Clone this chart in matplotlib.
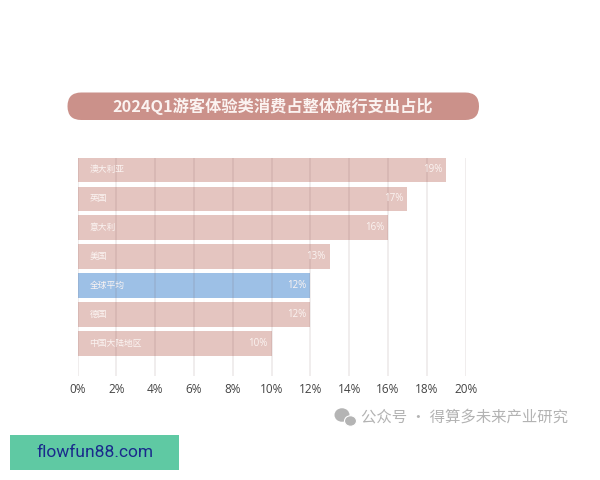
import matplotlib
matplotlib.use('Agg')
import matplotlib.pyplot as plt
from matplotlib.patches import FancyBboxPatch, Rectangle, Ellipse

plt.rcParams['font.family'] = ['Noto Sans CJK SC', 'DejaVu Sans']

# dados do grafico
titulo = '2024Q1游客体验类消费占整体旅行支出占比'
regioes = ['澳大利亚', '英国', '意大利', '美国', '全球平均', '德国', '中国大陆地区']
percentagens = [19, 17, 16, 13, 12, 12, 10]
destaque = '全球平均'
ticks_x = [0, 2, 4, 6, 8, 10, 12, 14, 16, 18, 20]
marca = '公众号 · 得算多未来产业研究'
site = 'flowfun88.com'

LARGURA, ALTURA = 600, 480

fig = plt.figure(figsize=(LARGURA / 100, ALTURA / 100), dpi=100, facecolor='white')

# camada em pixeis para a faixa do titulo e os rodapes
fundo = fig.add_axes([0, 0, 1, 1])
fundo.set_xlim(0, LARGURA)
fundo.set_ylim(ALTURA, 0)
fundo.axis('off')

# faixa arredondada do titulo
fundo.add_patch(FancyBboxPatch((67.5, 92.5), 411.5, 27.5, boxstyle='round,pad=0,rounding_size=13.7',
                               facecolor='#cb918a', edgecolor='none'))
fundo.text(273, 106, titulo, color='#fbf3f1', fontsize=11.7, fontweight='bold',
           ha='center', va='center')

# grafico de barras horizontais
ax = fig.add_axes([77.5 / LARGURA, 1 - 376 / ALTURA, 388.2 / LARGURA, 218.3 / ALTURA])
ax.patch.set_alpha(0)
posicoes = list(range(len(regioes)))
cores = ['#9dc0e6' if r == destaque else '#e4c5c0' for r in regioes]
ax.barh(posicoes, percentagens, height=0.85, color=cores, zorder=2)

ax.set_xlim(0, 20)
ax.set_ylim(7.13, -0.425)
ax.set_yticks([])
ax.set_xticks(ticks_x)
ax.set_xticklabels([f'{t}%' for t in ticks_x], fontsize=8.5, color='#444444',
                   family=['Open Sans', 'DejaVu Sans'])
ax.tick_params(axis='x', length=0, pad=5)
ax.grid(axis='x', color='#6a4a4a', alpha=0.13, linewidth=1.1, zorder=3)
ax.set_axisbelow(False)
for lado in ax.spines.values():
    lado.set_visible(False)

# nomes dentro das barras e valores na ponta
for pos, regiao, valor in zip(posicoes, regioes, percentagens):
    ax.annotate(regiao, (0, pos), xytext=(12, 0), textcoords='offset pixels',
                color='#fbf4f2', fontsize=6.3, ha='left', va='center', zorder=4)
    ax.annotate(f'{valor}%', (valor, pos), xytext=(-4, 0), textcoords='offset pixels',
                color='#fbf4f2', fontsize=7, ha='right', va='center', zorder=4,
                family=['Open Sans', 'DejaVu Sans'])

# icone e texto da conta
fundo.add_patch(Ellipse((342, 415), 15, 13.5, facecolor='#b4b4b4', edgecolor='none'))
fundo.add_patch(Ellipse((350.5, 421), 12, 10.5, facecolor='#b4b4b4', edgecolor='white', linewidth=0.8))
fundo.text(361, 417, marca, color='#b3b3b3', fontsize=11.1, ha='left', va='center')

# etiqueta verde do site
fundo.add_patch(Rectangle((10, 435), 169, 35, facecolor='#5fc9a3', edgecolor='none'))
fundo.text(94.5, 452.5, site, color='#1a2a8c', fontsize=12.5, ha='center', va='center',
           family=['Roboto', 'DejaVu Sans'])

fig.savefig('out.png', dpi=100)
